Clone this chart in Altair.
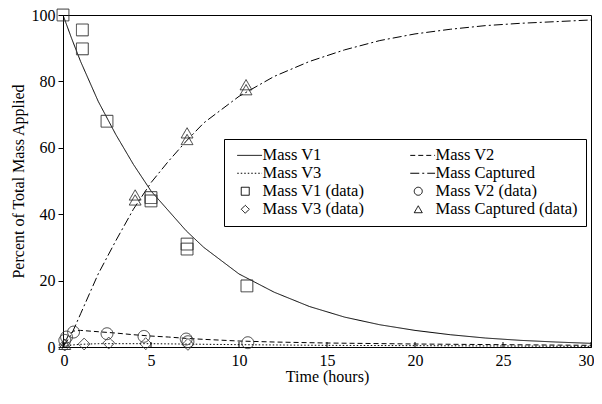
import altair as alt
import pandas as pd

# ---- model curves ----
t_v1 = [0, 0.5, 1, 2, 3, 4, 5, 6, 7, 8, 9, 10, 12, 14, 16, 18, 20, 22, 24, 26, 28, 30]
v1 = [100, 92.8, 86, 74, 64, 55, 47, 41, 35, 30, 26, 22, 16.5, 12.2, 9, 6.7, 5, 3.7, 2.7, 2, 1.5, 1.1]
t_cap = [0, 0.5, 1, 2, 3, 4, 5, 6, 7, 8, 9, 10, 12, 14, 16, 18, 20, 22, 24, 26, 28, 30]
cap = [0, 4, 10, 22, 32, 41.5, 49.5, 56, 62, 67.5, 71.5, 75.5, 81.5, 86, 89.5, 92.3, 94.3, 95.7, 96.8, 97.5, 98, 98.5]
t_v2 = [0, 0.3, 0.6, 1, 2, 3, 4, 5, 6, 7, 8, 10, 12, 15, 20, 25, 30]
v2 = [0, 3.5, 4.8, 5, 4.6, 4.2, 3.7, 3.3, 3, 2.6, 2.3, 1.8, 1.5, 1.2, 0.9, 0.7, 0.5]
t_v3 = [0, 0.5, 1, 2, 5, 10, 15, 20, 25, 30]
v3 = [0, 0.6, 0.8, 1.0, 1.0, 0.7, 0.5, 0.4, 0.3, 0.2]

# ---- measured data ----
t_v1d = [0, 1.1, 1.1, 2.5, 5.0, 5.0, 7.05, 7.05, 10.45]
v1d = [100, 95.5, 89.8, 68, 45, 44, 31, 29.5, 18.4]
t_v2d = [0.1, 0.2, 0.6, 2.5, 4.6, 7.0, 7.1, 10.5]
v2d = [2.0, 3.0, 4.5, 4.0, 3.2, 2.4, 1.6, 1.3]
t_v3d = [0.1, 1.2, 2.6, 4.7, 7.1]
v3d = [0.6, 0.9, 1.2, 1.0, 0.8]
t_capd = [0.1, 4.1, 4.1, 7.05, 7.05, 10.4, 10.4]
capd = [0.8, 45.8, 44.3, 64.5, 62.5, 79, 77.5]

series = ["Mass V1", "Mass V2", "Mass V3", "Mass Captured",
          "Mass V1 (data)", "Mass V2 (data)", "Mass V3 (data)", "Mass Captured (data)"]
x_ticks = [0, 5, 10, 15, 20, 25, 30]
y_ticks = [0, 20, 40, 60, 80, 100]

LINE = "M-2,0H4.2"
shapes = [LINE, LINE, LINE, LINE, "square", "circle", "diamond", "triangle-up"]
dashes = [[1, 0], [5, 3], [1.5, 2], [9, 3, 2, 3], [1, 0], [1, 0], [1, 0], [1, 0]]

W, H = 528, 332
FONT = "Liberation Serif"

def frame(ts, vs, name):
    return pd.DataFrame({"t": ts, "v": vs, "series": name})

curves = pd.concat([frame(t_v1, v1, series[0]), frame(t_v2, v2, series[1]),
                    frame(t_v3, v3, series[2]), frame(t_cap, cap, series[3])])
points = pd.concat([frame(t_v1d, v1d, series[4]), frame(t_v2d, v2d, series[5]),
                    frame(t_v3d, v3d, series[6]), frame(t_capd, capd, series[7])])

xs = alt.Scale(domain=[0, 30], nice=False)
ys = alt.Scale(domain=[0, 100], nice=False)
dash_scale = alt.Scale(domain=series, range=dashes)
shape_scale = alt.Scale(domain=series, range=shapes)
leg = alt.Legend(title=None, orient="none", legendX=161, legendY=124, columns=2,
                 direction="horizontal",
                 labelFont=FONT, labelFontSize=16.5, labelColor="black",
                 symbolSize=64, symbolStrokeWidth=1, symbolStrokeColor="black",
                 symbolOffset=5, labelOffset=9, columnPadding=40, rowPadding=1,
                 padding=8, strokeColor="black", fillColor="white",
                 labelLimit=400, symbolLimit=20)

x_enc = alt.X("t:Q", scale=xs, title="Time (hours)",
              axis=alt.Axis(values=x_ticks, ticks=False, labelPadding=5, titlePadding=0,
                            labelFlush=True, labelFlushOffset=3))
y_enc = alt.Y("v:Q", scale=ys, title="Percent of Total Mass Applied",
              axis=alt.Axis(values=y_ticks, tickSize=5, labelPadding=3, titlePadding=5))

lines = alt.Chart(curves).mark_line(color="black", strokeWidth=1, clip=True).encode(
    x=x_enc, y=y_enc,
    strokeDash=alt.StrokeDash("series:N", scale=dash_scale, legend=leg),
    detail="series:N",
)

pts = alt.Chart(points).mark_point(filled=False, color="#333333", size=140, strokeWidth=1,
                                   opacity=1).encode(
    x=x_enc, y=y_enc,
    shape=alt.Shape("series:N", scale=shape_scale, legend=leg),
    strokeDash=alt.StrokeDash("series:N", scale=dash_scale, legend=leg),
)

ticks = alt.Chart(pd.DataFrame({"t": x_ticks})).mark_rule(color="black").encode(
    x=alt.X("t:Q", scale=xs), y=alt.value(H - 5), y2=alt.value(H))

chart = alt.layer(lines, pts, ticks).properties(
    width=W, height=H,
    autosize=alt.AutoSizeParams(type="none"),
    padding={"left": 55, "top": 7, "right": 3, "bottom": 40},
).configure_view(stroke="black", strokeWidth=1).configure_axis(
    labelFont=FONT, titleFont=FONT, labelFontSize=16, titleFontSize=16,
    titleFontWeight="normal", labelColor="black", titleColor="black",
    domainColor="black", tickColor="black", grid=False,
)

chart.save("out.html", embed_options={"renderer": "svg", "actions": False})
